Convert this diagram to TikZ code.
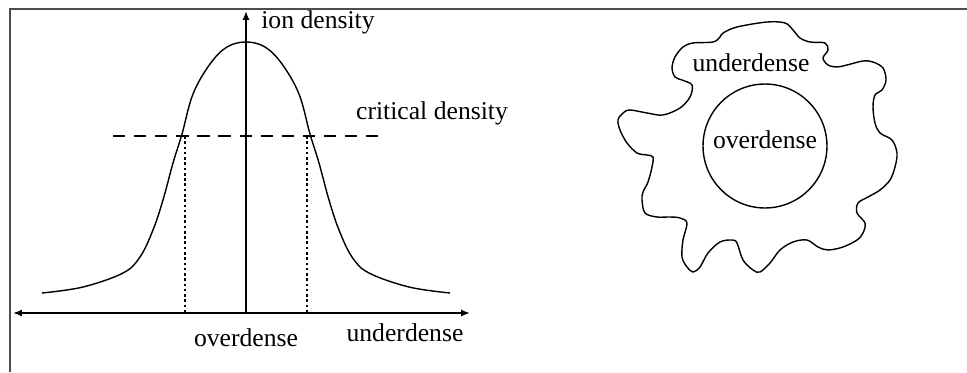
\documentclass[tikz,border=0pt]{standalone}
\usepackage{fontspec}
\setmainfont{Liberation Serif}
\usetikzlibrary{arrows.meta}
\tikzset{
  frame/.style = {line width=1.1pt, draw=black!70},
  axis/.style  = {line width=1pt, {Latex[length=5pt,width=4pt]}-{Latex[length=5pt,width=4pt]}},
  vaxis/.style = {line width=1pt, -{Latex[length=5pt,width=4pt]}},
  curve/.style = {line width=0.8pt},
  crit/.style  = {line width=0.8pt, dash pattern=on 7pt off 5pt},
  drop/.style  = {line width=0.8pt, dash pattern=on 1.5pt off 1.5pt},
  lbl/.style   = {font=\fontsize{14.6}{16}\selectfont, inner sep=0pt},
}

\begin{document}
\begin{tikzpicture}[x={(0.02cm,0)}, y={(0,-0.02cm)}]
  \useasboundingbox (0,0) rectangle (967,372);
  % frame (top and left only)
  \draw[frame] (967,9) -- (10,9) -- (10,372);

  % axes
  \coordinate (xl) at (13,313);
  \coordinate (xr) at (470,313);
  \coordinate (o)  at (246,313);
  \coordinate (yt) at (246,11);
  \draw[axis] (xl) -- (xr);
  \draw[vaxis] (o) -- (yt);

  % density profile
  \draw[curve] plot[smooth, tension=0.6] coordinates {
    (42,293) (83,287) (123,273) (140,257) (153,230) (163,200) (173,163)
    (182,134) (193,94) (210,64) (227,47) (246,42) (265,47) (282,64)
    (299,94) (310,134) (319,163) (329,200) (339,230) (352,257) (369,273)
    (409,287) (450,293)};

  % critical density level and its crossings
  \coordinate (cl) at (113,136);
  \coordinate (cr) at (382,136);
  \coordinate (pl) at (185,136);
  \coordinate (pr) at (307,136);
  \draw[crit] (cl) -- (cr);
  \draw[drop] (pl) -- (pl |- o);
  \draw[drop] (pr) -- (pr |- o);

  \node[lbl] (ion)  at (318,22)  {ion density};
  \node[lbl] (crt)  at (432,113) {critical density};
  \node[lbl] (ovr)  at (246,338) {overdense};
  \node[lbl] (und)  at (405,333) {underdense};

  % plasma cross-section
  \node[circle, draw, line width=0.8pt, minimum size=2.48cm, inner sep=0pt]
    (core) at (765,146) {};
  \node[lbl] (ovr2) at (765,140) {overdense};
  \node[lbl] (und2) at (751,63)  {underdense};
  \draw[curve] plot[smooth cycle, tension=0.55] coordinates {
    (723,33) (737,27) (767,22) (785,23) (793,30) (800,38) (810,42)
    (825,43) (828,50) (823,58) (828,65) (837,67) (847,65) (863,61)
    (873,62) (883,68) (886,80) (882,90) (875,95) (873,107) (875,123)
    (880,133) (892,140) (897,153) (895,167) (890,180) (880,190)
    (868,197) (858,203) (857,213) (865,223) (863,233) (857,240)
    (843,247) (828,250) (818,247) (807,240) (793,242) (780,250)
    (770,263) (760,272) (753,270) (743,260) (737,243) (732,240)
    (720,242) (708,253) (700,267) (693,272) (687,267) (682,257)
    (683,240) (687,223) (680,218) (670,217) (657,217) (645,213)
    (642,200) (643,192) (648,182) (652,167) (653,157) (647,155)
    (637,153) (627,143) (620,130) (618,120) (623,113) (630,110)
    (647,113) (663,115) (680,108) (690,97) (692,85) (682,80)
    (675,77) (672,68) (675,57) (683,47) (693,43) (713,42) (720,37)};
\end{tikzpicture}
\end{document}
